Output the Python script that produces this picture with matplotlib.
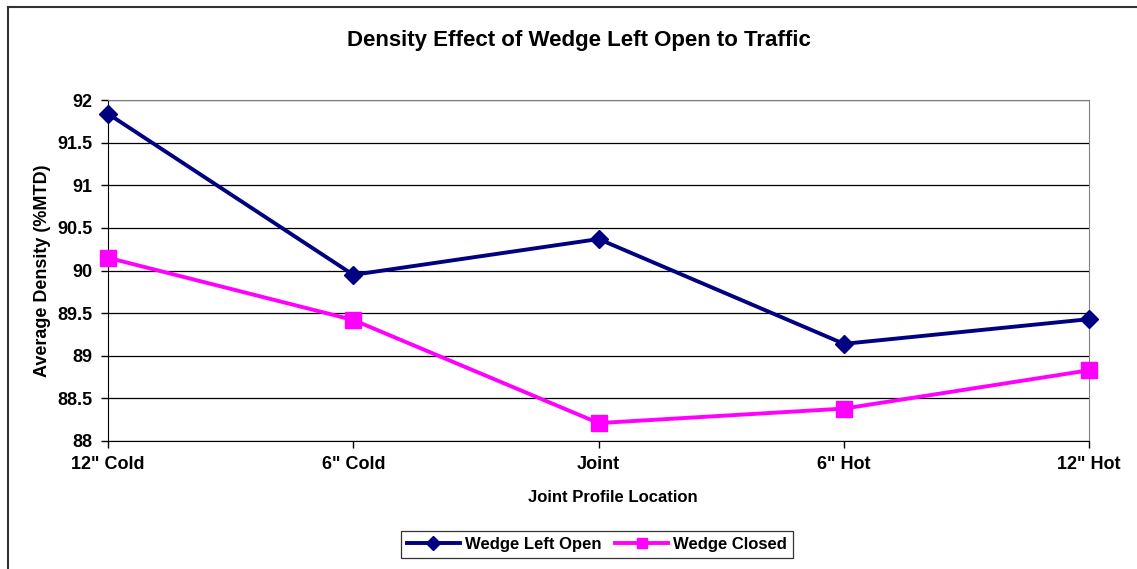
from matplotlib import pyplot as plt
from matplotlib.lines import Line2D

# chart data
locations = ['12" Cold', '6" Cold', 'Joint', '6" Hot', '12" Hot']
wedge_open = [91.84, 89.95, 90.37, 89.14, 89.43]
wedge_closed = [90.15, 89.42, 88.21, 88.38, 88.83]
yticks = [88, 88.5, 89, 89.5, 90, 90.5, 91, 91.5, 92]

plt.rcParams['font.family'] = ['Liberation Sans', 'DejaVu Sans']
plt.rcParams['font.weight'] = 'bold'

fig = plt.figure(figsize=(11.37, 5.69), dpi=100)
ax = fig.add_axes([0.095, 0.225, 0.863, 0.599])

xs = range(len(locations))
ax.plot(xs, wedge_open, color='#000080', lw=2.8, marker='D', ms=9.5,
        label='Wedge Left Open', clip_on=False, zorder=4)
ax.plot(xs, wedge_closed, color='#FF00FF', lw=2.8, marker='s', ms=11,
        label='Wedge Closed', clip_on=False, zorder=3)

ax.set_xlim(0, len(locations) - 1)
ax.set_ylim(88, 92)
ax.set_yticks(yticks)
ax.set_yticklabels([f'{v:g}' for v in yticks])
ax.set_xticks(list(xs))
ax.set_xticklabels(locations)
ax.tick_params(labelsize=13, length=5, width=1, color='black', pad=6)
ax.grid(axis='y', color='black', lw=0.9)
ax.set_axisbelow(True)

for side in ['top', 'right']:
    ax.spines[side].set_color('#808080')
for side in ['left', 'bottom']:
    ax.spines[side].set_color('black')

fig.text(0.509, 0.928, 'Density Effect of Wedge Left Open to Traffic', fontsize=16,
         fontweight='bold', ha='center', va='center')
ax.set_xlabel('Joint Profile Location', fontsize=12, fontweight='bold')
ax.xaxis.set_label_coords(0.514, -0.145)
ax.set_ylabel('Average Density (%MTD)', fontsize=13, fontweight='bold')
ax.yaxis.set_label_coords(-0.058, 0.5)

leg = fig.legend(loc='lower center', bbox_to_anchor=(0.525, 0.005), ncol=2,
                 fontsize=12, frameon=True, fancybox=False, edgecolor='black',
                 handlelength=3.2, handletextpad=0.3, columnspacing=0.8,
                 borderpad=0.35, markerscale=0.7)
leg.get_frame().set_linewidth(0.9)

# outer chart border (only top and left edges show in the crop)
fig.add_artist(Line2D([0.007, 1.0], [0.988, 0.988], transform=fig.transFigure,
                      color='#333333', lw=1.5))
fig.add_artist(Line2D([0.007, 0.007], [0.0, 0.988], transform=fig.transFigure,
                      color='#333333', lw=1.5))

fig.savefig('out.png', dpi=100)
